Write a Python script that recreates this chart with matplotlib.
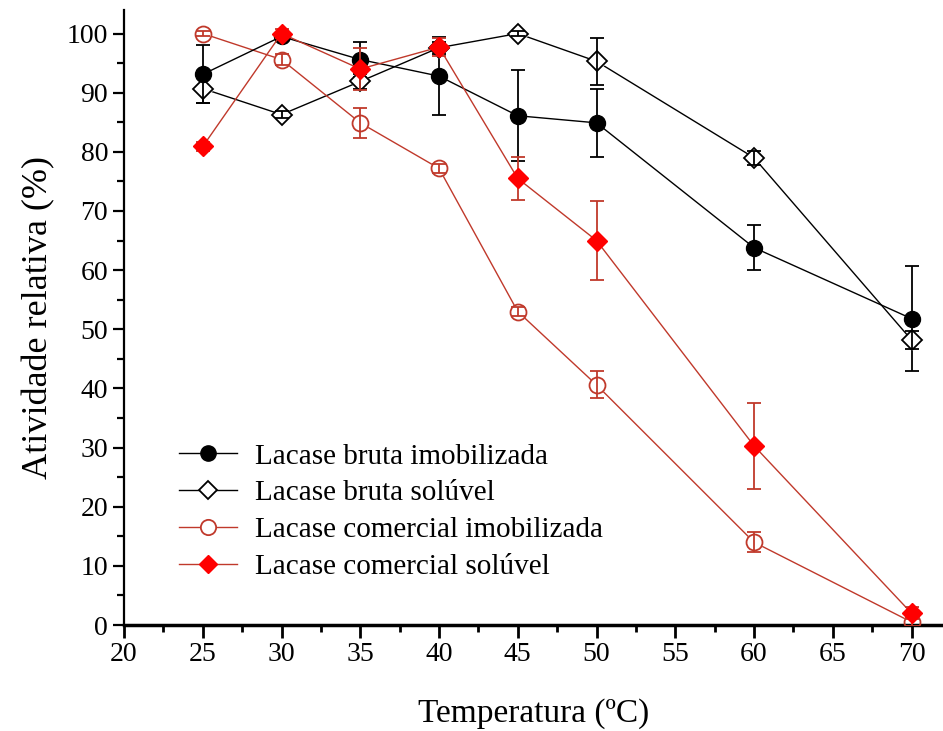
import matplotlib.pyplot as plt
from matplotlib.ticker import MultipleLocator

plt.rcParams['font.family'] = ['Liberation Serif', 'DejaVu Serif']

# Temperatures (ºC) and relative activity (%) with standard deviations
temp = [25, 30, 35, 40, 45, 50, 60, 70]

bruta_imob = [93.1, 99.5, 95.6, 92.8, 86.1, 84.9, 63.8, 51.8]
bruta_imob_err = [4.9, 0.8, 3.0, 6.6, 7.7, 5.7, 3.8, 8.9]

bruta_sol = [90.7, 86.3, 91.9, 97.6, 100.0, 95.3, 79.0, 48.2]
bruta_sol_err = [2.4, 0.6, 1.2, 1.0, 0.5, 4.0, 1.2, 1.5]

comerc_imob = [100.0, 95.6, 84.9, 77.2, 53.0, 40.6, 14.0, 0.5]
comerc_imob_err = [0.5, 1.0, 2.5, 0.8, 0.8, 2.3, 1.7, 0.6]

comerc_sol = [80.9, 100.0, 94.0, 97.7, 75.5, 65.0, 30.3, 2.0]
comerc_sol_err = [0.8, 0.8, 3.5, 1.5, 3.7, 6.7, 7.3, 1.0]

dark_red = '#c0392b'
red = '#ff0000'

fig = plt.figure(figsize=(9.43, 7.31), dpi=100)
ax = fig.add_axes([0.1315, 0.145, 0.8685, 0.8415])

# Lacase bruta imobilizada - filled black circles
ax.errorbar(temp, bruta_imob, yerr=bruta_imob_err, fmt='none', ecolor='black',
            elinewidth=1.3, capsize=5, capthick=1.3, zorder=2)
ax.plot(temp, bruta_imob, color='black', lw=1, marker='o', ms=11.5,
        mfc='black', mec='black', zorder=3)

# Lacase bruta solúvel - open diamonds (error bar visible through the marker)
ax.plot(temp, bruta_sol, color='black', lw=1, marker='D', ms=10,
        mfc='white', mec='white', zorder=2)
ax.errorbar(temp, bruta_sol, yerr=bruta_sol_err, fmt='none', ecolor='black',
            elinewidth=1.3, capsize=5, capthick=1.3, zorder=3)
ax.plot(temp, bruta_sol, ls='none', marker='D', ms=10, mfc='none',
        mec='black', mew=1.3, zorder=4)

# Lacase comercial imobilizada - open red circles
ax.plot(temp, comerc_imob, color=dark_red, lw=1, marker='o', ms=11.5,
        mfc='white', mec='white', zorder=2)
ax.errorbar(temp, comerc_imob, yerr=comerc_imob_err, fmt='none',
            ecolor=dark_red, elinewidth=1.3, capsize=5, capthick=1.3, zorder=3)
ax.plot(temp, comerc_imob, ls='none', marker='o', ms=11.5, mfc='none',
        mec=dark_red, mew=1.3, zorder=4)

# Lacase comercial solúvel - filled red diamonds
ax.errorbar(temp, comerc_sol, yerr=comerc_sol_err, fmt='none', ecolor=dark_red,
            elinewidth=1.3, capsize=5, capthick=1.3, zorder=5)
ax.plot(temp, comerc_sol, color=dark_red, lw=1, marker='D', ms=10,
        mfc=red, mec=red, zorder=6)

# Legend proxies
h1, = ax.plot([], [], color='black', lw=1, marker='o', ms=11, mfc='black', mec='black')
h2, = ax.plot([], [], color='black', lw=1, marker='D', ms=9, mfc='white', mec='black', mew=1.3)
h3, = ax.plot([], [], color=dark_red, lw=1, marker='o', ms=11, mfc='white', mec=dark_red, mew=1.3)
h4, = ax.plot([], [], color=dark_red, lw=1, marker='D', ms=9, mfc=red, mec=red)
ax.legend([h1, h2, h3, h4],
          ['Lacase bruta imobilizada', 'Lacase bruta solúvel',
           'Lacase comercial imobilizada', 'Lacase comercial solúvel'],
          loc='lower left', bbox_to_anchor=(0.035, 0.03), frameon=False,
          fontsize=21, handlelength=2.0, handletextpad=0.6, labelspacing=0.36)

ax.set_xlim(20, 72)
ax.set_ylim(0, 104)
ax.xaxis.set_major_locator(MultipleLocator(5))
ax.xaxis.set_minor_locator(MultipleLocator(2.5))
ax.yaxis.set_major_locator(MultipleLocator(10))
ax.yaxis.set_minor_locator(MultipleLocator(5))

for side in ['top', 'right']:
    ax.spines[side].set_visible(False)
ax.spines['left'].set_linewidth(1.6)
ax.spines['bottom'].set_linewidth(2.5)

ax.tick_params(axis='x', which='major', direction='out', length=9, width=2, labelsize=20)
ax.tick_params(axis='x', which='minor', direction='out', length=5, width=2)
ax.tick_params(axis='y', which='major', direction='out', length=8, width=1.6, labelsize=20)
ax.tick_params(axis='y', which='minor', direction='out', length=5, width=1.6)

ax.set_xlabel('Temperatura (ºC)', fontsize=24, labelpad=22)
ax.set_ylabel('Atividade relativa (%)', fontsize=26, labelpad=8)

plt.savefig('out.png', dpi=100)
